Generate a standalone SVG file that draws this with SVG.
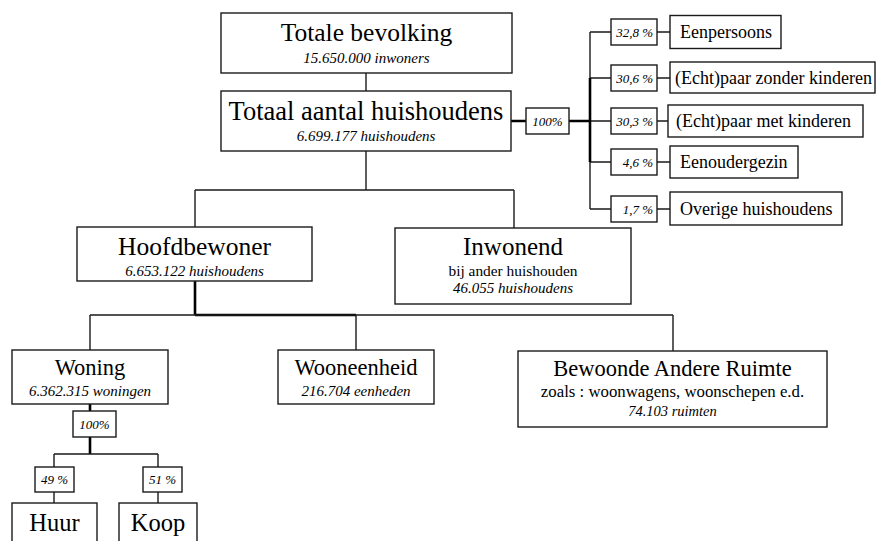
<svg xmlns="http://www.w3.org/2000/svg" width="876" height="541" viewBox="0 0 876 541">
<style>
.box{fill:#fff;stroke:#1a1a1a;stroke-width:1.4}
text{font-family:'Liberation Serif','DejaVu Serif',serif;fill:#000;text-anchor:middle}
.i{font-style:italic}
.ln{fill:none;stroke:#1a1a1a;stroke-width:1.4}
.th{fill:none;stroke:#000;stroke-width:2.6}
.big{font-size:25.5px}
.mid{font-size:22.5px}
.sub{font-size:15px}
.lab{font-size:18px;text-anchor:start}
.pct{font-size:13px}
.pr{font-size:13px;text-anchor:end}
</style>
<rect width="876" height="541" fill="#fff"/>
<g id="connectors">
<path class="ln" d="M366 73V91"/>
<path class="ln" d="M366 151V190M195 190H514M195 190V227M514 190V228"/>
<path class="th" d="M511 121H526M569 121H590"/>
<path class="ln" d="M590 32V209M590 32H611M590 78H611M590 121H611M590 162H611M590 209H611"/>
<path class="th" d="M590 78V162"/>
<path class="ln" d="M657 32H670M657 78H670M657 121H668M657 162H670M657 209H670"/>
<path class="th" d="M195 281V315M195 315H356"/>
<path class="ln" d="M90 315H673M90 315V350M356 315V350M673 315V351"/>
<path class="th" d="M90 404V411M90 437V454"/>
<path class="ln" d="M54 454H158M54 454V467M158 454V467M54 492V503M158 492V503"/>
</g>
<g id="totale">
<rect class="box" x="221" y="13" width="291" height="60"/>
<text class="big" x="366.5" y="41">Totale bevolking</text>
<text class="i sub" x="366.5" y="63">15.650.000 inwoners</text>
</g>
<g id="totaal">
<rect class="box" x="221" y="91" width="290" height="60"/>
<text style="font-size:26.5px" x="366" y="120">Totaal aantal huishoudens</text>
<text class="i sub" x="366" y="141">6.699.177 huishoudens</text>
</g>
<g id="p100">
<rect class="box" x="526" y="108" width="43" height="26"/>
<text class="i pct" x="547.5" y="125.5">100%</text>
</g>
<g id="p1"><rect class="box" x="611" y="19" width="46" height="26"/><text class="i pr" x="653" y="36.5">32,8 %</text></g>
<g id="p2"><rect class="box" x="611" y="65" width="46" height="26"/><text class="i pr" x="653" y="82.5">30,6 %</text></g>
<g id="p3"><rect class="box" x="611" y="108" width="46" height="26"/><text class="i pr" x="653" y="125.5">30,3 %</text></g>
<g id="p4"><rect class="box" x="611" y="149" width="46" height="26"/><text class="i pr" x="653" y="166.5">4,6 %</text></g>
<g id="p5"><rect class="box" x="611" y="196" width="46" height="26"/><text class="i pr" x="653" y="213.5">1,7 %</text></g>
<g id="eenpersoons"><rect class="box" x="670" y="15.5" width="111" height="33"/><text class="lab" x="680" y="38">Eenpersoons</text></g>
<g id="zonder"><rect class="box" x="670" y="62" width="205" height="31"/><text class="lab" x="675" y="84">(Echt)paar zonder kinderen</text></g>
<g id="met"><rect class="box" x="668" y="105" width="195" height="32"/><text class="lab" x="676" y="127">(Echt)paar met kinderen</text></g>
<g id="eenouder"><rect class="box" x="670" y="146" width="128" height="32"/><text class="lab" x="680" y="168">Eenoudergezin</text></g>
<g id="overige"><rect class="box" x="670" y="192" width="172" height="33"/><text class="lab" x="680" y="215">Overige huishoudens</text></g>
<g id="hoofdbewoner">
<rect class="box" x="77" y="227" width="235" height="54"/>
<text class="big" x="194.5" y="255">Hoofdbewoner</text>
<text class="i sub" x="194.5" y="276">6.653.122 huishoudens</text>
</g>
<g id="inwonend">
<rect class="box" x="395" y="228" width="236" height="76"/>
<text style="font-size:25px" x="513" y="255">Inwonend</text>
<text style="font-size:15.4px" x="513" y="276">bij ander huishouden</text>
<text class="i sub" x="513" y="293">46.055 huishoudens</text>
</g>
<g id="woning">
<rect class="box" x="12" y="350" width="156" height="54"/>
<text class="mid" x="90" y="375">Woning</text>
<text class="i sub" x="90" y="396">6.362.315 woningen</text>
</g>
<g id="wooneenheid">
<rect class="box" x="278" y="350" width="156" height="54"/>
<text class="mid" x="356" y="375">Wooneenheid</text>
<text class="i sub" x="356" y="396">216.704 eenheden</text>
</g>
<g id="bewoonde">
<rect class="box" x="518" y="351" width="309" height="76"/>
<text class="mid" x="672.5" y="376">Bewoonde Andere Ruimte</text>
<text style="font-size:16.8px" x="672.5" y="397">zoals : woonwagens, woonschepen e.d.</text>
<text class="i" style="font-size:14.5px" x="672.5" y="416">74.103 ruimten</text>
</g>
<g id="w100"><rect class="box" x="73" y="411" width="43" height="26"/><text class="i pct" x="94.5" y="428.5">100%</text></g>
<g id="p49"><rect class="box" x="35" y="467" width="39" height="25"/><text class="i pct" x="54.5" y="484">49 %</text></g>
<g id="p51"><rect class="box" x="143" y="467" width="39" height="25"/><text class="i pct" x="162.5" y="484">51 %</text></g>
<g id="huur"><rect class="box" x="12" y="503" width="85" height="50"/><text style="font-size:24.5px" x="54.5" y="531">Huur</text></g>
<g id="koop"><rect class="box" x="119" y="503" width="78" height="50"/><text style="font-size:24.5px" x="158" y="531">Koop</text></g>
</svg>
